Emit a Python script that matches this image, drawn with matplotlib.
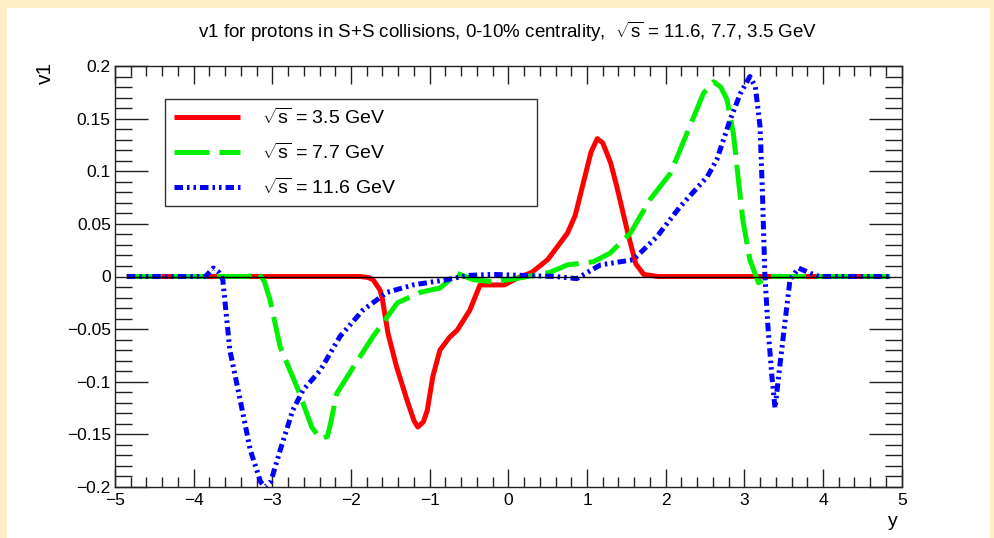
import numpy as np
import matplotlib
matplotlib.use('Agg')
from matplotlib import pyplot as plt
from matplotlib.patches import Rectangle
from matplotlib.ticker import MultipleLocator

plt.rcParams['font.family'] = ['Liberation Sans', 'DejaVu Sans']
plt.rcParams['mathtext.fontset'] = 'custom'
plt.rcParams['mathtext.rm'] = 'Liberation Sans'
plt.rcParams['mathtext.it'] = 'Liberation Sans:italic'

# v1(y)
red_x = [-4.85, -1.88, -1.78, -1.72, -1.63, -1.6, -1.53, -1.42, -1.29, -1.2, -1.15, -1.08,
         -1.03, -0.96, -0.87, -0.75, -0.65, -0.49, -0.36, -0.2, -0.05, 0.1, 0.3, 0.5, 0.75,
         0.85, 0.95, 1.05, 1.13, 1.2, 1.3, 1.38, 1.52, 1.62, 1.72, 1.9, 4.85]
red_y = [0, 0, -0.001, -0.003, -0.013, -0.022, -0.054, -0.086, -0.117, -0.137, -0.143, -0.138,
         -0.127, -0.095, -0.07, -0.058, -0.051, -0.032, -0.008, -0.008, -0.008, -0.002, 0.004,
         0.016, 0.041, 0.058, 0.088, 0.118, 0.131, 0.127, 0.108, 0.085, 0.041, 0.012, 0.002, 0, 0]

green_x = [-4.85, -3.3, -3.18, -3.1, -3.03, -2.9, -2.67, -2.5, -2.39, -2.3, -2.27, -2.18,
           -1.97, -1.72, -1.41, -1.12, -0.87, -0.65, -0.45, -0.2, 0.1, 0.53, 0.75, 1.08,
           1.29, 1.55, 1.8, 2.06, 2.27, 2.48, 2.61, 2.7, 2.78, 2.86, 2.98, 3.07, 3.18, 3.29, 4.85]
green_y = [0, 0, 0.004, -0.005, -0.022, -0.067, -0.108, -0.143, -0.154, -0.152, -0.143, -0.111,
           -0.086, -0.057, -0.025, -0.015, -0.011, 0.003, -0.003, -0.005, -0.002, 0.004, 0.011,
           0.014, 0.022, 0.041, 0.073, 0.098, 0.136, 0.174, 0.185, 0.18, 0.168, 0.136, 0.054,
           0.016, -0.006, 0, 0]

blue_x = [-4.85, -3.85, -3.75, -3.68, -3.63, -3.54, -3.41, -3.28, -3.15, -3.09, -3.02, -2.9,
          -2.74, -2.61, -2.39, -2.14, -1.85, -1.54, -1.21, -0.78, -0.52, -0.2, 0.2, 0.6, 0.87,
          1.17, 1.59, 1.89, 2.18, 2.53, 2.65, 2.82, 2.95, 3.07, 3.14, 3.2, 3.23, 3.26, 3.3,
          3.35, 3.39, 3.46, 3.52, 3.58, 3.69, 3.84, 3.95, 4.85]
blue_y = [0, 0, 0.008, 0.004, -0.003, -0.07, -0.117, -0.165, -0.195, -0.2, -0.195, -0.165,
          -0.127, -0.108, -0.089, -0.057, -0.032, -0.015, -0.008, -0.003, 0.001, 0.002, 0.001,
          0.0, -0.002, 0.011, 0.016, 0.038, 0.066, 0.095, 0.111, 0.149, 0.174, 0.19, 0.18,
          0.142, 0.079, 0.003, -0.048, -0.095, -0.125, -0.079, -0.041, -0.003, 0.008, 0.003, 0, 0]

labels = [r'$\sqrt{\mathrm{s}}$ = 3.5 GeV', r'$\sqrt{\mathrm{s}}$ = 7.7 GeV',
          r'$\sqrt{\mathrm{s}}$ = 11.6 GeV']
title = r'v1 for protons in S+S collisions, 0-10% centrality,  $\sqrt{\mathrm{s}}$ = 11.6, 7.7, 3.5 GeV'

fig = plt.figure(figsize=(9.95, 5.38), dpi=100, facecolor='#fcefc8')
fig.patches.append(Rectangle((7/995, 0), 983/995, 1 - 8/538, transform=fig.transFigure,
                             facecolor='white', edgecolor='none', zorder=-5))

ax = fig.add_axes([115/995, 1 - 487/538, 786.7/995, 421/538])
ax.set_zorder(2)
lw = 3.6
ax.plot(red_x, red_y, color='#ff0000', lw=lw, solid_capstyle='butt', label=labels[0])
ax.plot(green_x, green_y, color='#00f000', lw=lw, dashes=(7, 2), dash_capstyle='butt',
        label=labels[1])
ax.plot(blue_x, blue_y, color='#0000ff', lw=lw, dashes=(1.7, 0.8, 0.5, 0.8, 0.5, 0.8),
        dash_capstyle='butt', label=labels[2])
ax.hlines(0, red_x[0], red_x[-1], color='black', lw=1, zorder=5)

ax.set_xlim(-5, 5)
ax.set_ylim(-0.2, 0.2)
ax.xaxis.set_major_locator(MultipleLocator(1))
ax.xaxis.set_minor_locator(MultipleLocator(0.2))
ax.yaxis.set_minor_locator(MultipleLocator(0.01))
ax.set_yticks([-0.2, -0.15, -0.1, -0.05, 0, 0.05, 0.1, 0.15, 0.2])
ax.set_yticklabels(['\u22120.2', '\u22120.15', '\u22120.1', '\u22120.05', '0', '0.05', '0.1',
                    '0.15', '0.2'])
ax.tick_params(which='both', direction='in', top=True, right=True, labelsize=12.5,
               color='#222222', width=1)
ax.tick_params(axis='x', which='major', length=13, pad=4)
ax.tick_params(axis='x', which='minor', length=7)
ax.tick_params(axis='y', which='major', length=24, pad=3)
ax.tick_params(axis='y', which='minor', length=12)
for s in ax.spines.values():
    s.set_linewidth(1)
    s.set_color('#222222')

leg = ax.legend(loc='upper left', bbox_to_anchor=(0.0636, 0.667, 0.4725, 0.255),
                mode='expand', borderaxespad=0, fontsize=14, handlelength=3.4,
                handletextpad=1.15, labelspacing=0.75, borderpad=0.45, fancybox=False,
                frameon=True)
leg.get_frame().set_edgecolor('black')
leg.get_frame().set_linewidth(1)

fig.text(508/995, 1 - 32/538, title, ha='center', va='center', fontsize=13.5)
fig.text(45/995, 1 - 73/538, 'v1', rotation=90, ha='center', va='center', fontsize=15)
fig.text(893/995, 1 - 522/538, 'y', ha='center', va='center', fontsize=14)

fig.savefig('out.png', dpi=100, facecolor=fig.get_facecolor())
